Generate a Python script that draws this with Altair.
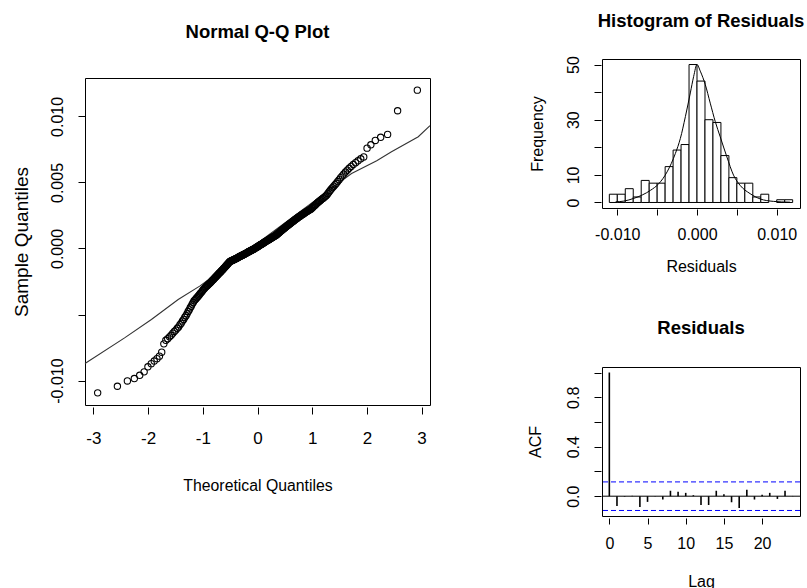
import json
import altair as alt
import pandas as pd

# ---------------- data ----------------
residuals = [
    -0.01093, -0.01043, -0.01003,
    -0.00985, -0.00960, -0.00934,
    -0.00896, -0.00872, -0.00852, -0.00834, -0.00815,
    -0.00785, -0.00722,
    -0.00695, -0.00683, -0.00669, -0.00657, -0.00641, -0.00628, -0.00618, -0.00604,
    -0.00594, -0.00577, -0.00566, -0.00549, -0.00537, -0.00521, -0.00509,
    -0.00494, -0.00477, -0.00465, -0.00449, -0.00437, -0.00421, -0.00409,
    -0.00396, -0.00389, -0.00381, -0.00372, -0.00365, -0.00358, -0.00350, -0.00341,
    -0.00334, -0.00327, -0.00318, -0.00311, -0.00304,
    -0.00297, -0.00292, -0.00286, -0.00282, -0.00276, -0.00271, -0.00265, -0.00261,
    -0.00255, -0.00250, -0.00244, -0.00239, -0.00235, -0.00229, -0.00223, -0.00218,
    -0.00213, -0.00208, -0.00203,
    -0.00198, -0.00193, -0.00188, -0.00184, -0.00179, -0.00174, -0.00169, -0.00164,
    -0.00160, -0.00155, -0.00150, -0.00145, -0.00141, -0.00136, -0.00131, -0.00126,
    -0.00121, -0.00117, -0.00112, -0.00107, -0.00102,
    -0.00099, -0.00097, -0.00095, -0.00093, -0.00091, -0.00089, -0.00087, -0.00085,
    -0.00083, -0.00081, -0.00079, -0.00077, -0.00075, -0.00073, -0.00071, -0.00069,
    -0.00067, -0.00065, -0.00063, -0.00061, -0.00059, -0.00057, -0.00055, -0.00053,
    -0.00051, -0.00049, -0.00047, -0.00045, -0.00043, -0.00041, -0.00039, -0.00037,
    -0.00035, -0.00033, -0.00031, -0.00029, -0.00027, -0.00025, -0.00023, -0.00021,
    -0.00019, -0.00017, -0.00015, -0.00013, -0.00011, -0.00009, -0.00007, -0.00005,
    -0.00003, -0.00001,
    0.00001, 0.00003, 0.00006, 0.00008, 0.00010, 0.00012, 0.00015, 0.00017, 0.00019,
    0.00021, 0.00024, 0.00026, 0.00028, 0.00031, 0.00033, 0.00035, 0.00037, 0.00040,
    0.00042, 0.00044, 0.00047, 0.00049, 0.00051, 0.00053, 0.00056, 0.00058, 0.00060,
    0.00062, 0.00065, 0.00067, 0.00069, 0.00072, 0.00074, 0.00076, 0.00078, 0.00081,
    0.00083, 0.00085, 0.00087, 0.00090, 0.00092, 0.00094, 0.00097, 0.00099,
    0.00102, 0.00105, 0.00108, 0.00112, 0.00115, 0.00118, 0.00122, 0.00125, 0.00128,
    0.00132, 0.00135, 0.00138, 0.00142, 0.00145, 0.00148, 0.00152, 0.00155, 0.00158,
    0.00162, 0.00165, 0.00168, 0.00172, 0.00175, 0.00178, 0.00182, 0.00185, 0.00188,
    0.00192, 0.00195, 0.00198,
    0.00202, 0.00205, 0.00209, 0.00212, 0.00216, 0.00219, 0.00223, 0.00226, 0.00229,
    0.00233, 0.00236, 0.00240, 0.00243, 0.00247, 0.00250, 0.00254, 0.00257, 0.00260,
    0.00264, 0.00267, 0.00271, 0.00274, 0.00278, 0.00281, 0.00285, 0.00288, 0.00291,
    0.00295, 0.00298,
    0.00303, 0.00309, 0.00315, 0.00321, 0.00326, 0.00332, 0.00338, 0.00344, 0.00350,
    0.00356, 0.00362, 0.00368, 0.00374, 0.00379, 0.00385, 0.00391, 0.00397,
    0.00406, 0.00417, 0.00428, 0.00439, 0.00450, 0.00461, 0.00472, 0.00483, 0.00494,
    0.00507, 0.00521, 0.00536, 0.00550, 0.00564, 0.00579, 0.00593,
    0.00607, 0.00621, 0.00636, 0.00650, 0.00664, 0.00679, 0.00693,
    0.00760, 0.00785,
    0.00818, 0.00842, 0.00864,
    0.01043,
    0.01199,
]

# reference line of the Q-Q panel (theoretical, sample)
qq_line_x = [-3.154, -2.43, -1.94, -1.45, -1.05, 0.0, 1.35, 1.72, 2.18, 2.45, 2.94, 3.154]
qq_line_y = [-0.00871, -0.00677, -0.00538, -0.00386, -0.00283, 0.0004, 0.00455,
             0.00568, 0.00664, 0.00732, 0.00846, 0.0093]

# density curve drawn over the histogram (residual, frequency scale)
dens_x = [-0.01021, -0.00917, -0.00792, -0.00688, -0.00584, -0.0048, -0.00375, -0.00271,
          -0.00209, -0.00146, -0.00084, -0.00042, 0.0, 0.00041, 0.00104, 0.00166, 0.00229,
          0.00291, 0.00375, 0.00458, 0.00541, 0.00666, 0.00791, 0.00958, 0.01166]
dens_y = [0.24, 0.5, 1.5, 2.7, 4.4, 6.8, 11.1, 17.8, 23.2, 31.1, 39.7, 45.7, 50.0, 47.6,
          42.7, 36.0, 29.3, 23.8, 16.5, 9.9, 6.2, 3.2, 1.3, 0.4, 0.1]

acf_lag = [0, 1, 2, 3, 4, 5, 6, 7, 8, 9, 10, 11, 12, 13, 14, 15, 16, 17, 18, 19, 20, 21, 22, 23, 24]
acf_value = [1.0, -0.079, -0.004, 0.003, -0.087, -0.046, -0.003, -0.027, 0.044, 0.036,
             0.027, 0.008, -0.071, -0.071, 0.044, 0.016, -0.049, -0.096, 0.052, -0.027,
             0.011, 0.027, -0.022, 0.044, 0.002]
acf_ci = [0.1155, -0.1155]

qq_x_ticks = [-3, -2, -1, 0, 1, 2, 3]
qq_y_ticks = [-0.010, -0.005, 0.0, 0.005, 0.010]
qq_y_hidden = [-0.005]
hist_x_ticks = [-0.010, -0.005, 0.0, 0.005, 0.010]
hist_x_hidden = [-0.005, 0.005]
hist_y_ticks = [0, 10, 20, 30, 40, 50]
hist_y_hidden = [20, 40]
acf_x_ticks = [0, 5, 10, 15, 20]
acf_y_ticks = [0.0, 0.2, 0.4, 0.6, 0.8, 1.0]
acf_y_hidden = [0.2, 0.6, 1.0]

qq_x_domain = [-3.154, 3.154]
qq_y_domain = [-0.01185, 0.01291]
hist_x_domain = [-0.01192, 0.01292]
hist_y_domain = [-2, 52]
acf_x_domain = [-0.96, 24.96]
acf_y_domain = [-0.1601, 1.0446]

# ---------------- styling ----------------
SANS = "Liberation Sans, Arial, sans-serif"


def lab_expr(hidden, fmt):
    return ("indexof(%s, datum.value) >= 0 ? '' : replace(format(datum.value, '%s'), '\u2212', '-')"
            % (json.dumps(hidden), fmt))


def axis(**kw):
    base = dict(domain=False, grid=False, ticks=True, tickColor="black", tickWidth=1,
                labelColor="black", titleColor="black", labelFont=SANS, titleFont=SANS,
                titleFontWeight="normal", labelOverlap=False, labelFlush=False)
    base.update(kw)
    return alt.Axis(**base)


def left_axis(values, expr, title, tick, lpad, tpad, lsize, tsize, offset=0):
    return axis(values=values, labelExpr=expr, title=title, tickSize=tick, offset=offset,
                labelAngle=270, labelAlign="center", labelBaseline="bottom",
                labelPadding=lpad, titlePadding=tpad, labelFontSize=lsize, titleFontSize=tsize)


res_df = pd.DataFrame({"res": residuals})

# ---------------- Q-Q panel ----------------
qq_x_axis = axis(values=qq_x_ticks, labelExpr="replace(format(datum.value, 'd'), '\u2212', '-')",
                 title="Theoretical Quantiles", tickSize=7, offset=2, labelPadding=16,
                 labelFontSize=17, titleFontSize=15.8, titlePadding=32)
qq_y_axis = left_axis(qq_y_ticks, lab_expr(qq_y_hidden, ".3f"), "Sample Quantiles",
                      7, 13, 18, 16, 19)

qq_xs = alt.Scale(domain=qq_x_domain, nice=False, zero=False)
qq_ys = alt.Scale(domain=qq_y_domain, nice=False, zero=False)

qq_points = (
    alt.Chart(res_df)
    .transform_joinaggregate(n="count()")
    .transform_window(rank="row_number()", sort=[alt.SortField("res")])
    .transform_calculate(theo="quantileNormal((datum.rank - 0.5) / datum.n)")
    .mark_point(shape="circle", filled=False, size=40, strokeWidth=1.1, color="black", opacity=1)
    .encode(x=alt.X("theo:Q", scale=qq_xs, axis=qq_x_axis),
            y=alt.Y("res:Q", scale=qq_ys, axis=qq_y_axis))
)
qq_line = (
    alt.Chart(pd.DataFrame({"theo": qq_line_x, "res": qq_line_y}))
    .mark_line(color="#333333", strokeWidth=1.1)
    .encode(x=alt.X("theo:Q", scale=qq_xs, axis=qq_x_axis),
            y=alt.Y("res:Q", scale=qq_ys, axis=qq_y_axis))
)
qq = alt.layer(qq_line, qq_points).properties(
    width=345, height=327,
    title=alt.Title("Normal Q-Q Plot", font=SANS, fontSize=18.5, fontWeight="bold",
                    color="black", offset=37, frame="group", anchor="middle"),
)

spacer = (
    alt.Chart(pd.DataFrame({"s": [0]}))
    .mark_point(opacity=0)
    .encode(x=alt.X("s:Q", axis=None), y=alt.Y("s:Q", axis=None))
    .properties(width=345, height=1, view=alt.ViewBackground(stroke="transparent"))
)

# ---------------- histogram panel ----------------
hist_xs = alt.Scale(domain=hist_x_domain, nice=False, zero=False)
hist_ys = alt.Scale(domain=hist_y_domain, nice=False, zero=False)
hist_x_axis = axis(values=hist_x_ticks, labelExpr=lab_expr(hist_x_hidden, ".3f"),
                   title="Residuals", tickSize=6, offset=1, labelPadding=11,
                   labelFontSize=16, titleFontSize=16, titlePadding=16)
hist_y_axis = left_axis(hist_y_ticks, lab_expr(hist_y_hidden, "d"), "Frequency",
                        7, 12.5, 20, 16, 16, offset=1)

hist_bars = (
    alt.Chart(res_df)
    .transform_bin(as_=["b0", "b1"], field="res",
                   bin=alt.Bin(extent=[-0.011, 0.012], step=0.001, nice=False))
    .transform_aggregate(count="count()", groupby=["b0", "b1"])
    .mark_rect(fill="white", stroke="black", strokeWidth=1)
    .encode(x=alt.X("b0:Q", scale=hist_xs, axis=hist_x_axis), x2="b1:Q",
            y=alt.Y("count:Q", scale=hist_ys, axis=hist_y_axis), y2=alt.datum(0))
)
hist_curve = (
    alt.Chart(pd.DataFrame({"x": dens_x, "y": dens_y}))
    .mark_line(color="black", strokeWidth=1, interpolate="monotone")
    .encode(x=alt.X("x:Q", scale=hist_xs, axis=hist_x_axis),
            y=alt.Y("y:Q", scale=hist_ys, axis=hist_y_axis))
)
hist = alt.layer(hist_bars, hist_curve).properties(
    width=198, height=149,
    title=alt.Title("Histogram of Residuals", font=SANS, fontSize=18.5, fontWeight="bold",
                    color="black", offset=25, frame="group", anchor="middle"),
)

# ---------------- ACF panel ----------------
acf_xs = alt.Scale(domain=acf_x_domain, nice=False, zero=False)
acf_ys = alt.Scale(domain=acf_y_domain, nice=False, zero=False)
acf_x_axis = axis(values=acf_x_ticks, labelExpr="format(datum.value, 'd')",
                  title="Lag", tickSize=6, offset=2, labelPadding=11,
                  labelFontSize=16, titleFontSize=16, titlePadding=22)
acf_y_axis = left_axis(acf_y_ticks, lab_expr(acf_y_hidden, ".1f"), "ACF",
                       7, 12.5, 22, 16, 16, offset=1)

acf_df = pd.DataFrame({"lag": acf_lag, "acf": acf_value})
acf_bars = (
    alt.Chart(acf_df)
    .mark_rule(color="black", strokeWidth=1.6)
    .encode(x=alt.X("lag:Q", scale=acf_xs, axis=acf_x_axis),
            y=alt.Y("acf:Q", scale=acf_ys, axis=acf_y_axis), y2=alt.datum(0))
)
acf_zero = (
    alt.Chart(pd.DataFrame({"acf": [0.0]}))
    .mark_rule(color="black", strokeWidth=1)
    .encode(y=alt.Y("acf:Q", scale=acf_ys, axis=acf_y_axis))
)
acf_bounds = (
    alt.Chart(pd.DataFrame({"acf": acf_ci}))
    .mark_rule(color="#0000ff", strokeWidth=1, strokeDash=[5, 3])
    .encode(y=alt.Y("acf:Q", scale=acf_ys, axis=acf_y_axis))
)
acf = alt.layer(acf_bars, acf_zero, acf_bounds).properties(
    width=198, height=149,
    title=alt.Title("Residuals", font=SANS, fontSize=18.5, fontWeight="bold",
                    color="black", offset=30, frame="group", anchor="middle"),
)

left = alt.vconcat(spacer, qq, spacing=18, bounds="flush")
right = alt.vconcat(hist, acf, spacing=159, bounds="flush")

chart = (
    alt.hconcat(left, right, spacing=517, bounds="flush")
    .properties(padding={"left": 11, "top": 11, "right": 0, "bottom": 0}, background="white")
    .configure_view(stroke="black", strokeWidth=1)
)

chart.save("out.html", embed_options={"renderer": "svg", "actions": False})
